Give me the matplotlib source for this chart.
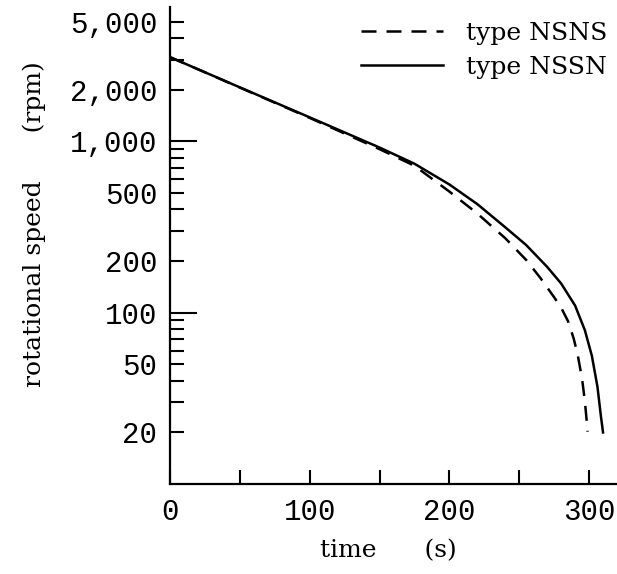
import matplotlib
matplotlib.use('Agg')
import matplotlib.pyplot as plt
from matplotlib.ticker import FixedLocator, NullFormatter

# coast-down data
t_nsns = [0, 50, 100, 150, 175, 200, 220, 240, 255, 265, 275, 280, 285, 289, 292, 295, 297, 299]
n_nsns = [3100, 2060, 1370, 900, 720, 509, 379, 272, 203, 160, 123, 107, 89, 70.6, 56, 41, 30.5, 20.2]

t_nssn = [0, 50, 100, 150, 175, 200, 220, 240, 255, 270, 280, 290, 297, 302, 306, 308.5, 310]
n_nssn = [3100, 2065, 1380, 920, 740, 560, 430, 315, 248, 185, 148, 110, 79, 56, 37, 24.8, 20]

y_major = [20, 50, 100, 200, 500, 1000, 2000, 5000]
y_major_labels = ['20', '50', '100', '200', '500', '1,000', '2,000', '5,000']
y_minor = [30, 40, 60, 70, 80, 90, 300, 400, 600, 700, 800, 900, 3000, 4000]
x_major = [0, 100, 200, 300]
x_minor = [50, 150, 250]

serif = 'DejaVu Serif'
mono = 'Liberation Mono'

fig = plt.figure(figsize=(6.17, 5.74), dpi=100)
ax = fig.add_axes([0.2755, 0.1568, 0.7245, 0.831])

ax.plot(t_nsns, n_nsns, color='black', lw=1.8, dashes=(6, 4), label='type NSNS')
ax.plot(t_nssn, n_nssn, color='black', lw=1.8, label='type NSSN')

ax.set_yscale('log')
ax.set_xlim(0, 320)
ax.set_ylim(10, 6080)

for s in ['top', 'right']:
    ax.spines[s].set_visible(False)
for s in ['left', 'bottom']:
    ax.spines[s].set_linewidth(1.6)

ax.yaxis.set_major_locator(FixedLocator(y_major))
ax.yaxis.set_minor_locator(FixedLocator(y_minor))
ax.yaxis.set_minor_formatter(NullFormatter())
ax.set_yticklabels(y_major_labels, family=mono, fontsize=21)

ax.xaxis.set_major_locator(FixedLocator(x_major))
ax.xaxis.set_minor_locator(FixedLocator(x_minor))
ax.set_xticklabels([str(v) for v in x_major], family=mono, fontsize=21)

ax.tick_params(axis='both', which='both', direction='in', length=10, width=1.5, color='black')
ax.tick_params(axis='y', which='major', pad=9)
ax.tick_params(axis='x', which='major', pad=10)

# decade ticks drawn longer
for v, tick in zip(y_major, ax.yaxis.get_major_ticks()):
    if v in (100, 1000):
        tick.tick1line.set_markersize(19.5)

leg = ax.legend(loc='upper right', bbox_to_anchor=(1.0, 0.99), frameon=False,
                prop={'family': serif, 'size': 18}, handlelength=3.3,
                handletextpad=0.9, labelspacing=0.45, borderaxespad=0.0)

fig.text(0.63, 0.04, 'time      (s)', family=serif, fontsize=18, ha='center', va='center')
fig.text(0.055, 0.61, 'rotational speed      (rpm)', family=serif, fontsize=18,
         ha='center', va='center', rotation=90)

fig.savefig('out.png', dpi=100)
